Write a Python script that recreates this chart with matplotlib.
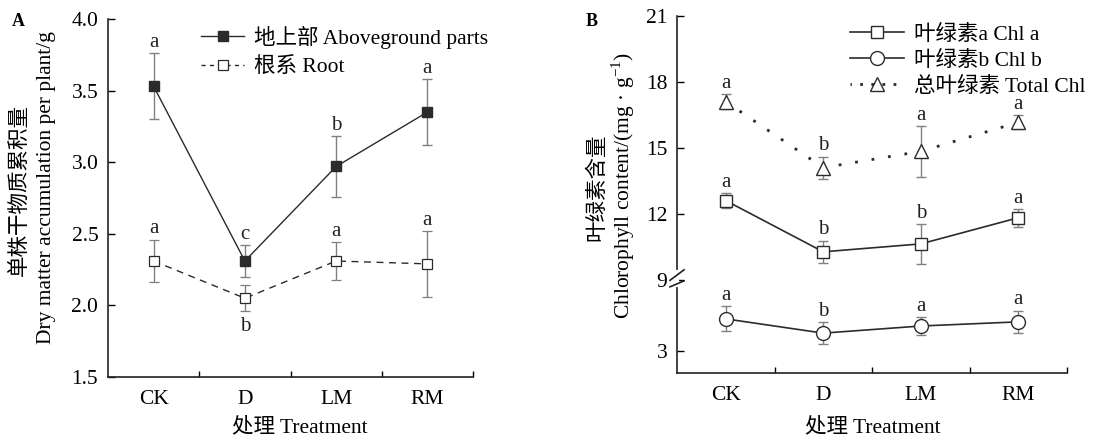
import matplotlib
matplotlib.use("Agg")
import matplotlib.pyplot as plt
from matplotlib.lines import Line2D
import numpy as np

plt.rcParams['font.family'] = ['Liberation Serif', 'Noto Sans CJK SC']
plt.rcParams['mathtext.fontset'] = 'custom'
plt.rcParams['mathtext.rm'] = 'Liberation Serif'

# ---------------- data ----------------
treatments = ["CK", "D", "LM", "RM"]

above_mean = [3.53, 2.31, 2.97, 3.35]
above_err = [0.23, 0.11, 0.21, 0.23]
above_letters = ["a", "c", "b", "a"]

root_mean = [2.31, 2.05, 2.31, 2.29]
root_err = [0.15, 0.09, 0.13, 0.23]
root_letters = ["a", "b", "a", "a"]

chla_mean = [12.6, 10.27, 10.63, 11.82]
chla_err = [0.35, 0.5, 0.9, 0.4]
chla_letters = ["a", "b", "b", "a"]

chlb_mean = [5.7, 4.5, 5.1, 5.45]
chlb_err = [1.05, 0.9, 0.75, 0.95]
chlb_letters = ["a", "b", "a", "a"]

total_mean = [17.1, 14.1, 14.84, 16.16]
total_err = [0.33, 0.5, 1.15, 0.32]
total_letters = ["a", "b", "a", "a"]

A_yticks = [1.5, 2.0, 2.5, 3.0, 3.5, 4.0]
B_yticks = [3, 9, 12, 15, 18, 21]

# ---------------- figure ----------------
W, H = 1105, 447
fig = plt.figure(figsize=(W / 100, H / 100), dpi=100)

def ax_rect(l, r, t, b):
    return [l / W, 1 - b / H, (r - l) / W, (b - t) / H]

axA = fig.add_axes(ax_rect(108, 473, 19, 377))
axB = fig.add_axes(ax_rect(677, 1067, 16, 373))

LC = '#2b2b2b'
EC = '#808080'
xpos = np.arange(len(treatments)) + 0.5
FS_TICK = 15.5
FS_LET = 15
FS_LAB = 15.5
FS_LEG = 15.5
ROOT_LS = (0, (5, 4))
TOT_LS = (0, (1, 5))


def style_axes(ax):
    ax.set_xlim(0, 4)
    ax.set_xticks(xpos)
    ax.set_xticklabels(treatments, fontsize=FS_TICK)
    ax.set_xticks([1, 2, 3, 4], minor=True)
    ax.tick_params(axis='x', which='major', length=0, pad=9)
    ax.tick_params(axis='x', which='minor', direction='in', length=4, width=1)
    ax.tick_params(axis='y', direction='in', length=5, width=1, pad=7, labelsize=FS_TICK)
    ax.spines['top'].set_visible(False)
    ax.spines['right'].set_visible(False)
    for s in ('left', 'bottom'):
        ax.spines[s].set_linewidth(1.2)
        ax.spines[s].set_color('#222222')


def letters(ax, xs, tops, labs, above=True, off=1):
    for x, t, l in zip(xs, tops, labs):
        ax.annotate(l, xy=(x, t), xytext=(0, off if above else -off),
                    textcoords='offset points', ha='center',
                    va='bottom' if above else 'top', fontsize=FS_LET, color='#222222')

# ---------------- panel A ----------------
axA.errorbar(xpos, above_mean, yerr=above_err, color=LC, lw=1.0, marker='s', ms=6.5,
             mfc=LC, mec=LC, ecolor=EC, elinewidth=1, capsize=3.5, capthick=1, zorder=3)
axA.errorbar(xpos, root_mean, yerr=root_err, color=LC, lw=1.0, ls=ROOT_LS, marker='s', ms=6.5,
             mfc='white', mec=LC, mew=0.9, ecolor=EC, elinewidth=1, capsize=3.5, capthick=1,
             zorder=3)
axA.set_ylim(1.5, 4.0)
axA.set_yticks(A_yticks)
axA.set_yticklabels([f"{v:.1f}" for v in A_yticks])
style_axes(axA)
letters(axA, xpos, np.add(above_mean, above_err), above_letters)
root_above = [True, False, True, True]
for x, m, e, l, ab in zip(xpos, root_mean, root_err, root_letters, root_above):
    letters(axA, [x], [m + e if ab else m - e], [l], above=ab, off=1 if ab else 4)

hA = [Line2D([], [], color=LC, lw=1.0, marker='s', ms=6.5, mfc=LC, mec=LC),
      Line2D([], [], color=LC, lw=1.0, ls=(0, (3, 3)), marker='s', ms=6.5, mfc='white', mec=LC, mew=0.9)]
axA.legend(hA, ['地上部 Aboveground parts', '根系 Root'], loc='upper left',
           bbox_to_anchor=(0.255, 0.982), frameon=False,
           fontsize=FS_LEG, handlelength=2.0, handletextpad=0.45,
           labelspacing=0.4, borderpad=0, borderaxespad=0)

# ---------------- panel B (broken axis via function scale) ----------------
K = 0.54

def fwd(y):
    y = np.asarray(y, dtype=float)
    return np.where(y >= 9, y, 9 - (9 - y) * K)

def inv(y):
    y = np.asarray(y, dtype=float)
    return np.where(y >= 9, y, 9 - (9 - y) / K)

axB.set_yscale('function', functions=(fwd, inv))

axB.errorbar(xpos, chla_mean, yerr=chla_err, color=LC, lw=1.2, marker='s', ms=9,
             mfc='white', mec=LC, mew=1.0, ecolor=EC, elinewidth=1, capsize=3.5, capthick=1, zorder=3)
axB.errorbar(xpos, chlb_mean, yerr=chlb_err, color=LC, lw=1.2, marker='o', ms=10,
             mfc='white', mec=LC, mew=1.0, ecolor=EC, elinewidth=1, capsize=3.5, capthick=1, zorder=3)
axB.errorbar(xpos, total_mean, yerr=total_err, color=LC, lw=2.0, ls=TOT_LS, marker='^', ms=10,
             mfc='white', mec=LC, mew=1.0, ecolor=EC, elinewidth=1, capsize=3.5, capthick=1, zorder=3)
axB.set_ylim(1.14, 21)
axB.set_yticks(B_yticks)
axB.set_yticklabels([str(v) for v in B_yticks])
axB.yaxis.set_minor_locator(matplotlib.ticker.NullLocator())
style_axes(axB)
letters(axB, xpos, np.add(chla_mean, chla_err), chla_letters)
letters(axB, xpos, np.add(chlb_mean, chlb_err), chlb_letters)
letters(axB, xpos, np.add(total_mean, total_err), total_letters)

# break marks on the y spine at 9
trB = matplotlib.transforms.blended_transform_factory(axB.transAxes, axB.transData)
axB.plot([0, 0], [8.55, 9.35], transform=trB, color='white', lw=3, clip_on=False, zorder=5)
for d0 in (8.65, 9.2):
    axB.plot([-0.018, 0.018], [d0 - 0.25, d0 + 0.25], transform=trB,
             color='#222222', lw=1.2, clip_on=False, zorder=6)

hB = [Line2D([], [], color=LC, lw=1.2, marker='s', ms=9, mfc='white', mec=LC),
      Line2D([], [], color=LC, lw=1.2, marker='o', ms=10, mfc='white', mec=LC),
      Line2D([], [], color=LC, lw=2.0, ls=(0.5, (1, 3)), marker='^', ms=10, mfc='white', mec=LC)]
axB.legend(hB, ['叶绿素a Chl a', '叶绿素b Chl b', '总叶绿素 Total Chl'], loc='upper left',
           bbox_to_anchor=(0.444, 0.975), frameon=False,
           fontsize=FS_LEG, handlelength=2.5, handletextpad=0.45,
           labelspacing=0.27, borderpad=0, borderaxespad=0)

# ---------------- labels ----------------
fig.text(20 / W, 1 - 190 / H, '单株干物质累积量', rotation=90, ha='center', va='center', fontsize=FS_LAB)
fig.text(47 / W, 1 - 188 / H, 'Dry matter accumulation per plant/g', rotation=90,
         ha='center', va='center', fontsize=FS_LAB)
fig.text(597 / W, 1 - 187 / H, '叶绿素含量', rotation=90, ha='center', va='center', fontsize=FS_LAB)
fig.text(623 / W, 1 - 186 / H, 'Chlorophyll content/(mg · g$^{-1}$)', rotation=90,
         ha='center', va='center', fontsize=FS_LAB)
fig.text(300 / W, 1 - 427 / H, '处理 Treatment', ha='center', va='center', fontsize=FS_LAB)
fig.text(873 / W, 1 - 427 / H, '处理 Treatment', ha='center', va='center', fontsize=FS_LAB)
fig.text(18 / W, 1 - 21 / H, 'A', ha='center', va='center', fontsize=13, fontweight='bold')
fig.text(592 / W, 1 - 21 / H, 'B', ha='center', va='center', fontsize=13, fontweight='bold')

fig.savefig('out.png', dpi=100, facecolor='white')
